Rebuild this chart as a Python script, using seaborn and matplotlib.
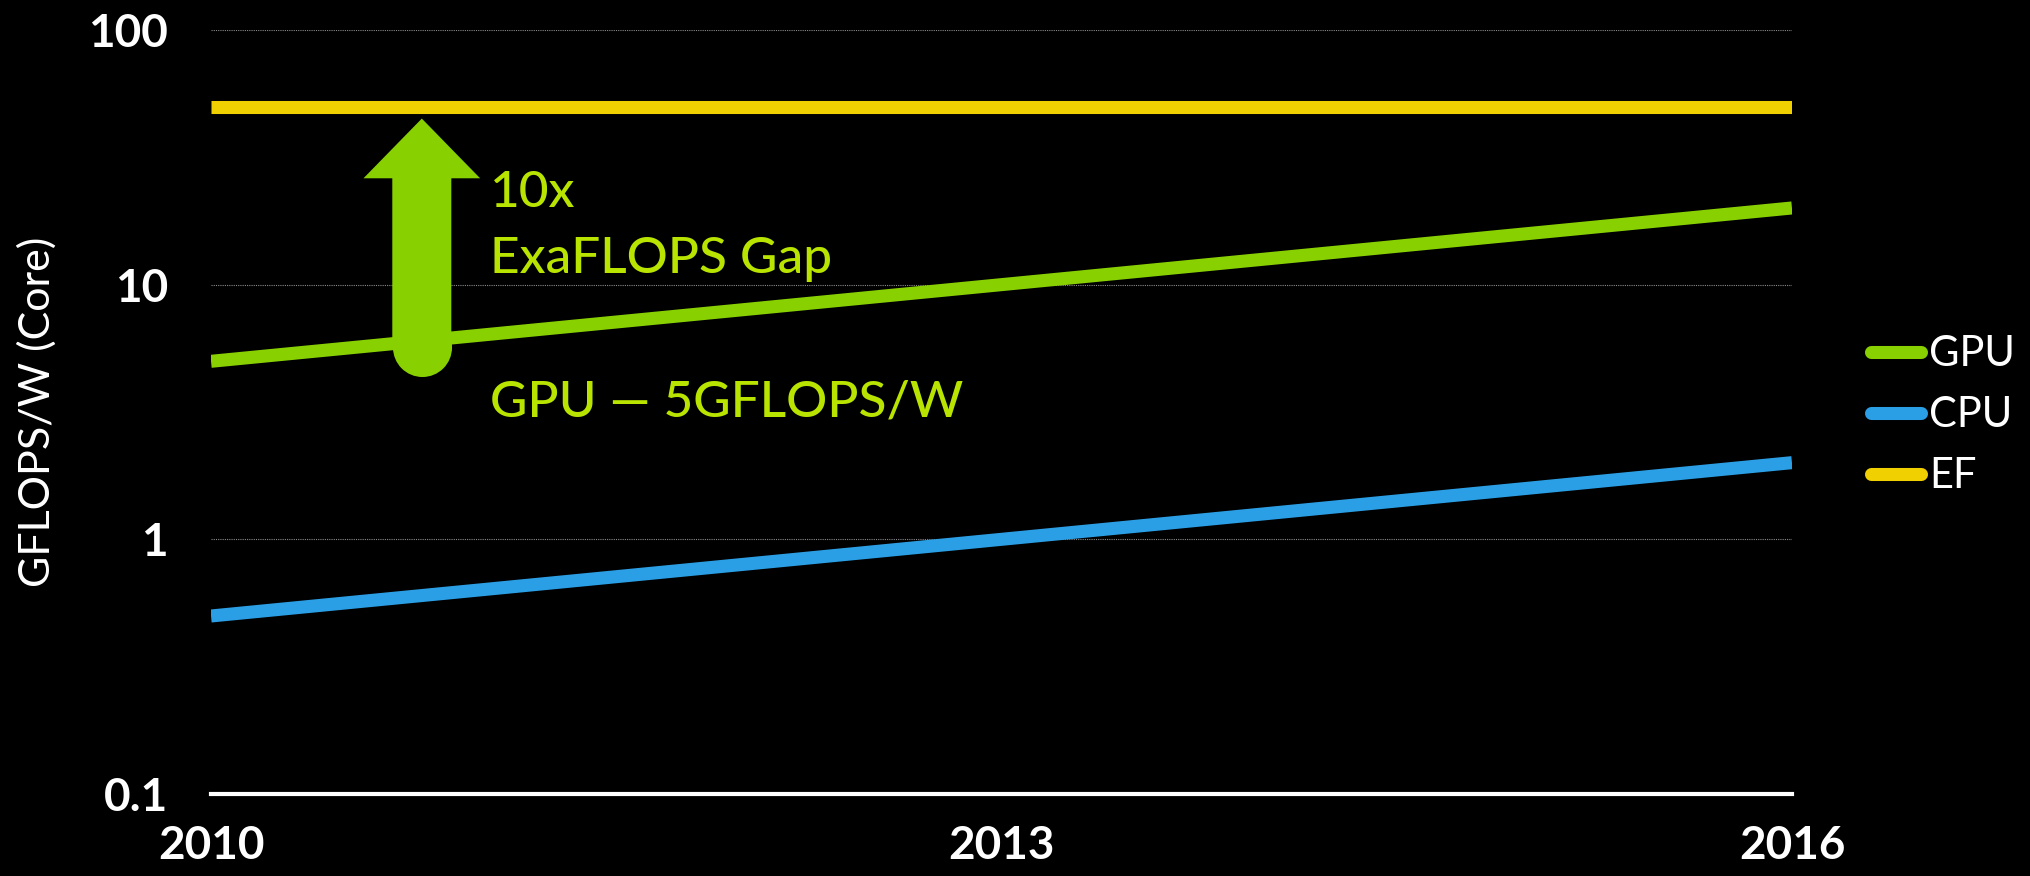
import matplotlib
matplotlib.use("Agg")
import matplotlib.pyplot as plt
import seaborn as sns
import pandas as pd
import numpy as np
from matplotlib.lines import Line2D
from matplotlib.patches import FancyArrowPatch, ArrowStyle
from matplotlib.ticker import FixedLocator, FixedFormatter, NullLocator

# ---- data -------------------------------------------------------------
years = [2010, 2016]
gpu = [5, 20]
cpu = [0.5, 2]
ef = [50, 50]
series_names = ["GPU", "CPU", "EF"]
series_colors = ["#88D000", "#2B9FE6", "#F0D000"]
x_ticks = [2010, 2013, 2016]
x_tick_labels = ["2010", "2013", "2016"]
y_ticks = [0.1, 1, 10, 100]
y_tick_labels = ["0.1", "1", "10", "100"]
y_label = "GFLOPS/W (Core)"
gap_line1 = "10x"
gap_line2 = "ExaFLOPS Gap"
gpu_note = "GPU — 5GFLOPS/W"
arrow_year = 2010.8

df = pd.DataFrame({
    "year": years * 3,
    "value": gpu + cpu + ef,
    "series": [s for s in series_names for _ in years],
})
palette = dict(zip(series_names, series_colors))
text_green = "#B8E400"

# ---- style ------------------------------------------------------------
sns.set_theme(style="dark", rc={
    "figure.facecolor": "black",
    "axes.facecolor": "black",
    "savefig.facecolor": "black",
    "text.color": "white",
    "axes.labelcolor": "white",
    "xtick.color": "white",
    "ytick.color": "white",
})
plt.rcParams["font.family"] = ["Lato", "DejaVu Sans"]

fig = plt.figure(figsize=(20.31, 8.76), dpi=100)
ax = fig.add_axes([0.1039, 0.0936, 0.7784, 0.8722])

sns.lineplot(data=df, x="year", y="value", hue="series", palette=palette,
             hue_order=series_names, linewidth=9.4, legend=False, ax=ax)
for ln in ax.lines:
    ln.set_solid_capstyle("butt")

ax.set_yscale("log")
ax.set_xlim(years[0], years[-1])
ax.set_ylim(y_ticks[0], y_ticks[-1])

ax.xaxis.set_major_locator(FixedLocator(x_ticks))
ax.xaxis.set_major_formatter(FixedFormatter(x_tick_labels))
ax.yaxis.set_major_locator(FixedLocator(y_ticks))
ax.yaxis.set_major_formatter(FixedFormatter(y_tick_labels))
ax.yaxis.set_minor_locator(NullLocator())
ax.xaxis.set_minor_locator(NullLocator())

ax.tick_params(axis="both", length=0, labelsize=33, labelcolor="white")
ax.tick_params(axis="y", pad=31)
ax.tick_params(axis="x", pad=22)
for lab in ax.get_xticklabels() + ax.get_yticklabels():
    lab.set_fontweight("bold")

ax.grid(False)
ax.yaxis.grid(True, color="#8a8a8a", linestyle=(0, (1, 1)), linewidth=0.8)
ax.set_axisbelow(True)

for side in ["left", "right", "top"]:
    ax.spines[side].set_visible(False)
ax.spines["bottom"].set_color("white")
ax.spines["bottom"].set_linewidth(3)
ax.spines["bottom"].set_zorder(5)

ax.set_xlabel("")
ax.set_ylabel(y_label, fontsize=31, color="white")
ax.yaxis.set_label_coords(-0.0974, 0.5)

# ---- gap arrow: from GPU line up to the EF target ----------------------
y_start = float(np.exp(np.interp(arrow_year, years, np.log(gpu)))) * 0.95
arrow = FancyArrowPatch(
    (arrow_year, y_start), (arrow_year, ef[0]),
    arrowstyle=ArrowStyle.Simple(head_length=43, head_width=84, tail_width=42.5),
    mutation_scale=1, shrinkA=0, shrinkB=8.6,
    color=palette["GPU"], lw=0, zorder=4,
)
ax.add_patch(arrow)
ax.plot([arrow_year], [y_start], marker="o", markersize=42.5,
        color=palette["GPU"], markeredgewidth=0, zorder=4)

note_kw = dict(fontsize=37, fontweight="medium", color=text_green, va="baseline", ha="left")
ax.text(2011.06, 20.2, gap_line1, **note_kw)
ax.text(2011.06, 11.14, gap_line2, **note_kw)
ax.text(2011.06, 3.04, gpu_note, **note_kw)

# ---- legend ------------------------------------------------------------
handles = [Line2D([0], [0], color=c, lw=9.4, solid_capstyle="round") for c in series_colors]
leg = ax.legend(handles, series_names, loc="center left",
                bbox_to_anchor=(0.9213, 0.526), bbox_transform=fig.transFigure,
                frameon=False, fontsize=30, labelcolor="white",
                handlelength=1.2, handletextpad=0.2, labelspacing=0.55,
                borderpad=0, borderaxespad=0)

fig.savefig("out.png", dpi=100, facecolor="black")
